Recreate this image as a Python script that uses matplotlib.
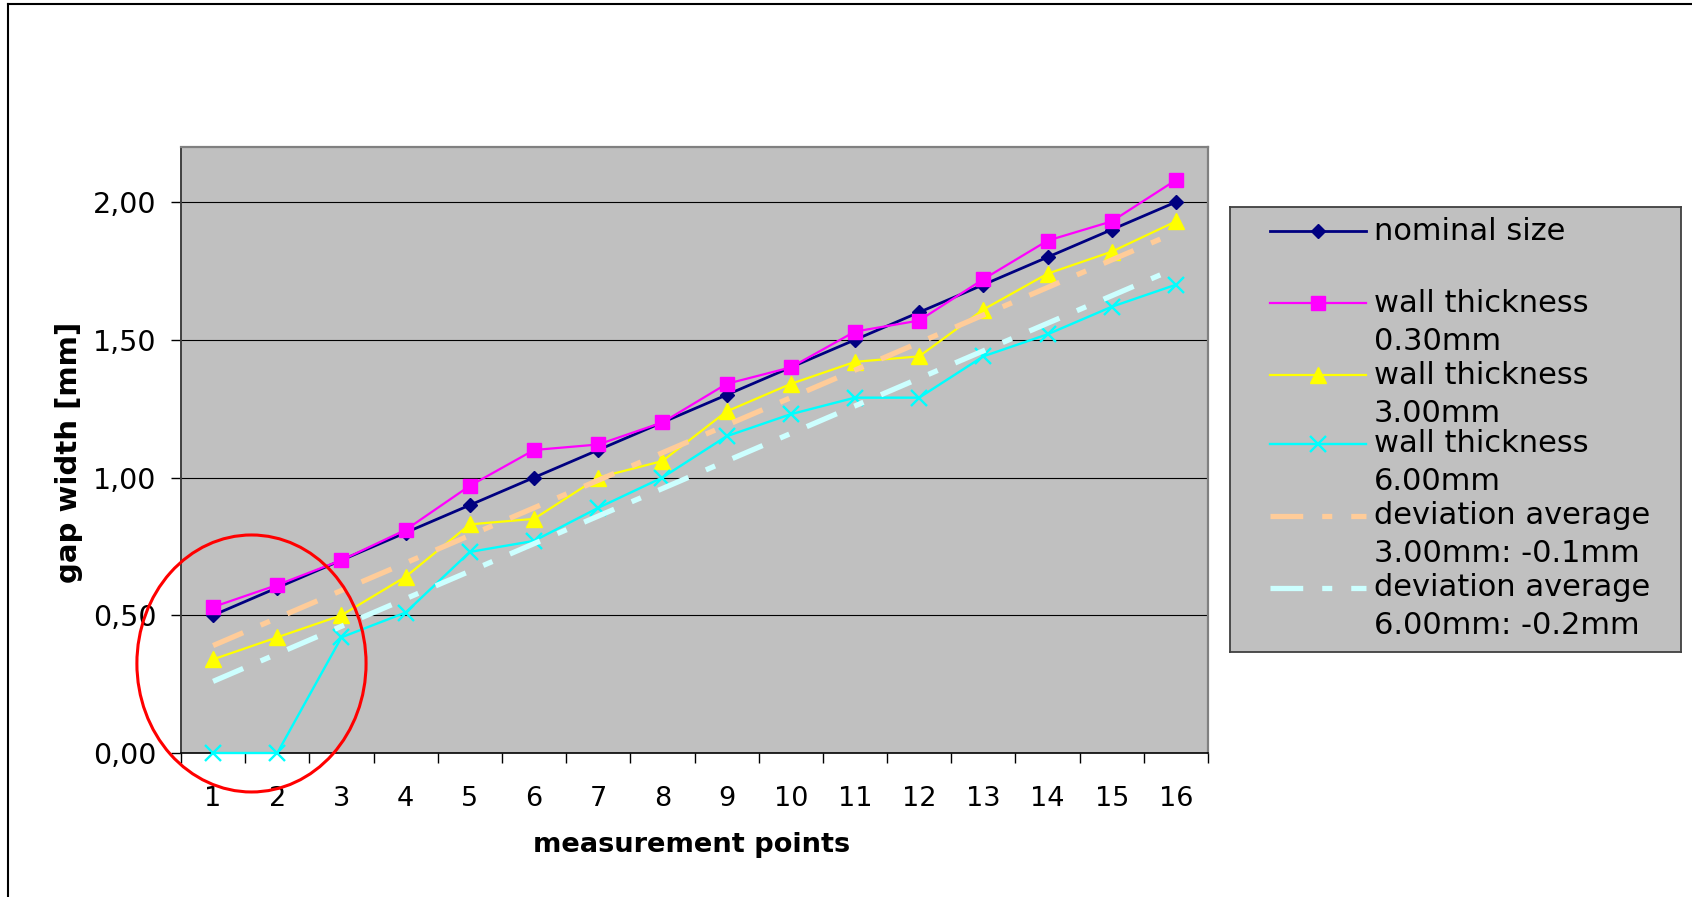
import matplotlib
matplotlib.use("Agg")
import matplotlib.pyplot as plt
from matplotlib.lines import Line2D
from matplotlib.patches import Ellipse

# ---------------- data ----------------
categories = [1, 2, 3, 4, 5, 6, 7, 8, 9, 10, 11, 12, 13, 14, 15, 16]
nominal = [0.50, 0.60, 0.70, 0.80, 0.90, 1.00, 1.10, 1.20, 1.30, 1.40, 1.50, 1.60, 1.70, 1.80, 1.90, 2.00]
wall_030 = [0.53, 0.61, 0.70, 0.81, 0.97, 1.10, 1.12, 1.20, 1.34, 1.40, 1.53, 1.57, 1.72, 1.86, 1.93, 2.08]
wall_300 = [0.34, 0.42, 0.50, 0.64, 0.83, 0.85, 1.00, 1.06, 1.24, 1.34, 1.42, 1.44, 1.61, 1.74, 1.82, 1.93]
wall_600 = [0.00, 0.00, 0.42, 0.51, 0.73, 0.77, 0.89, 1.00, 1.15, 1.23, 1.29, 1.29, 1.44, 1.52, 1.62, 1.70]
avg_300 = [0.39, 0.49, 0.59, 0.69, 0.79, 0.89, 0.99, 1.09, 1.19, 1.29, 1.39, 1.49, 1.59, 1.69, 1.79, 1.89]
avg_600 = [0.26, 0.36, 0.46, 0.56, 0.66, 0.76, 0.86, 0.96, 1.06, 1.16, 1.26, 1.36, 1.46, 1.56, 1.66, 1.76]

y_ticks = [0.0, 0.5, 1.0, 1.5, 2.0]
y_tick_labels = ["0,00", "0,50", "1,00", "1,50", "2,00"]
x_tick_labels = [str(c) for c in categories]

series_labels = ["nominal size", "wall thickness\n0.30mm", "wall thickness\n3.00mm",
                 "wall thickness\n6.00mm", "deviation average\n3.00mm: -0.1mm",
                 "deviation average\n6.00mm: -0.2mm"]

# ---------------- style ----------------
plt.rcParams['font.family'] = ['DejaVu Sans']
W, H = 1692, 897
fig = plt.figure(figsize=(W / 100, H / 100), dpi=100)

def fx(px):
    return px / W

def fy(py):
    return 1 - py / H

ax_l, ax_r, ax_t, ax_b = 181, 1208, 147, 753
ax = fig.add_axes([fx(ax_l), fy(ax_b), fx(ax_r - ax_l), (ax_b - ax_t) / H])
ax.set_facecolor('#C0C0C0')

NAVY, MAG, YEL, CYA, ORG, LCY = '#000080', '#FF00FF', '#FFFF00', '#00FFFF', '#FFCC99', '#CCFFFF'
DASH = (6.2, 3.6, 1.9, 3.6)

styles = [
    dict(color=NAVY, lw=2.0, marker='D', ms=7.5, mfc=NAVY, mec=NAVY),
    dict(color=MAG, lw=1.6, marker='s', ms=10, mfc=MAG, mec=MAG),
    dict(color=YEL, lw=1.6, marker='^', ms=11.5, mfc=YEL, mec=YEL),
    dict(color=CYA, lw=1.7, marker='x', ms=11.5, mew=1.7, mec=CYA),
    dict(color=ORG, lw=3.8, dashes=DASH),
    dict(color=LCY, lw=3.8, dashes=DASH),
]
series = [nominal, wall_030, wall_300, wall_600, avg_300, avg_600]
zorders = [4, 4, 4, 4, 5, 5]
for s, st, z, lab in zip(series, styles, zorders, series_labels):
    ax.plot(categories, s, zorder=z, clip_on=False, label=lab, **st)

ax.set_xlim(0.5, 16.5)
ax.set_ylim(0, 2.2)

for yv in y_ticks[1:]:
    ax.axhline(yv, color='#000000', lw=0.8, zorder=1)

ax.set_yticks(y_ticks)
ax.set_yticklabels(y_tick_labels)
ax.tick_params(axis='y', which='major', length=7, width=1, pad=10.5,
               labelsize=20.5, direction='out', color='#000000')

ax.set_xticks([c - 0.5 for c in categories] + [categories[-1] + 0.5])
ax.set_xticklabels([])
ax.set_xticks(categories, minor=True)
ax.set_xticklabels(x_tick_labels, minor=True)
ax.tick_params(axis='x', which='major', length=7, width=1, direction='out')
ax.tick_params(axis='x', which='minor', length=0, pad=24, labelsize=19.5)

for side in ['top', 'right']:
    ax.spines[side].set_color('#808080')
    ax.spines[side].set_linewidth(1.6)
ax.spines['left'].set_color('#404040')
ax.spines['left'].set_linewidth(1.4)
ax.spines['bottom'].set_color('#000000')
ax.spines['bottom'].set_linewidth(1.2)

ax.set_xlabel("measurement points", fontsize=19.6, fontweight='bold', va='center')
ax.xaxis.set_label_coords((692 - ax_l) / (ax_r - ax_l), (ax_b - 845) / (ax_b - ax_t))
ax.set_ylabel("gap width [mm]", fontsize=21, fontweight='bold', va='center', ha='center')
ax.yaxis.set_label_coords((69 - ax_l) / (ax_r - ax_l), (ax_b - 452) / (ax_b - ax_t))

# red highlight ellipse (annotation)
ell = Ellipse((1.598, 0.325), 3.57, 0.933, fill=False, edgecolor='#FF0000', lw=2.2,
              clip_on=False, zorder=6)
ax.add_patch(ell)

# ---------------- legend (Excel-like layout) ----------------
lg_l, lg_r, lg_t, lg_b = 1230, 1681, 207, 652
lax = fig.add_axes([fx(lg_l), fy(lg_b), fx(lg_r - lg_l), (lg_b - lg_t) / H])
lax.set_facecolor('#C0C0C0')
lax.set_xlim(lg_l, lg_r)
lax.set_ylim(lg_b, lg_t)
lax.set_xticks([])
lax.set_yticks([])
for sp in lax.spines.values():
    sp.set_color('#404040')
    sp.set_linewidth(1.3)

row_y = [231, 303, 375, 444, 516, 588]
second_dy = 38
for st, lab, ry in zip(styles, series_labels, row_y):
    st2 = dict(st)
    marker = st2.pop('marker', None)
    ms = st2.pop('ms', None)
    mfc = st2.pop('mfc', None)
    mec = st2.pop('mec', None)
    mew = st2.pop('mew', None)
    lax.add_line(Line2D([1270, 1366], [ry, ry], **st2))
    if marker:
        kw = dict(marker=marker, ms=ms, mec=mec, ls='none')
        if mfc:
            kw['mfc'] = mfc
        if mew:
            kw['mew'] = mew
        lax.add_line(Line2D([1318], [ry], **kw))
    lines = lab.split("\n")
    for k, t in enumerate(lines):
        lax.text(1374, ry + k * second_dy, t, fontsize=22, va='center', ha='left', color='black')

# outer frame lines (left and top)
fig.add_artist(Line2D([fx(8), fx(8)], [fy(4), 0], color='black', lw=1.5))
fig.add_artist(Line2D([fx(8), 1], [fy(4), fy(4)], color='black', lw=1.5))

fig.savefig("out.png", dpi=100)
